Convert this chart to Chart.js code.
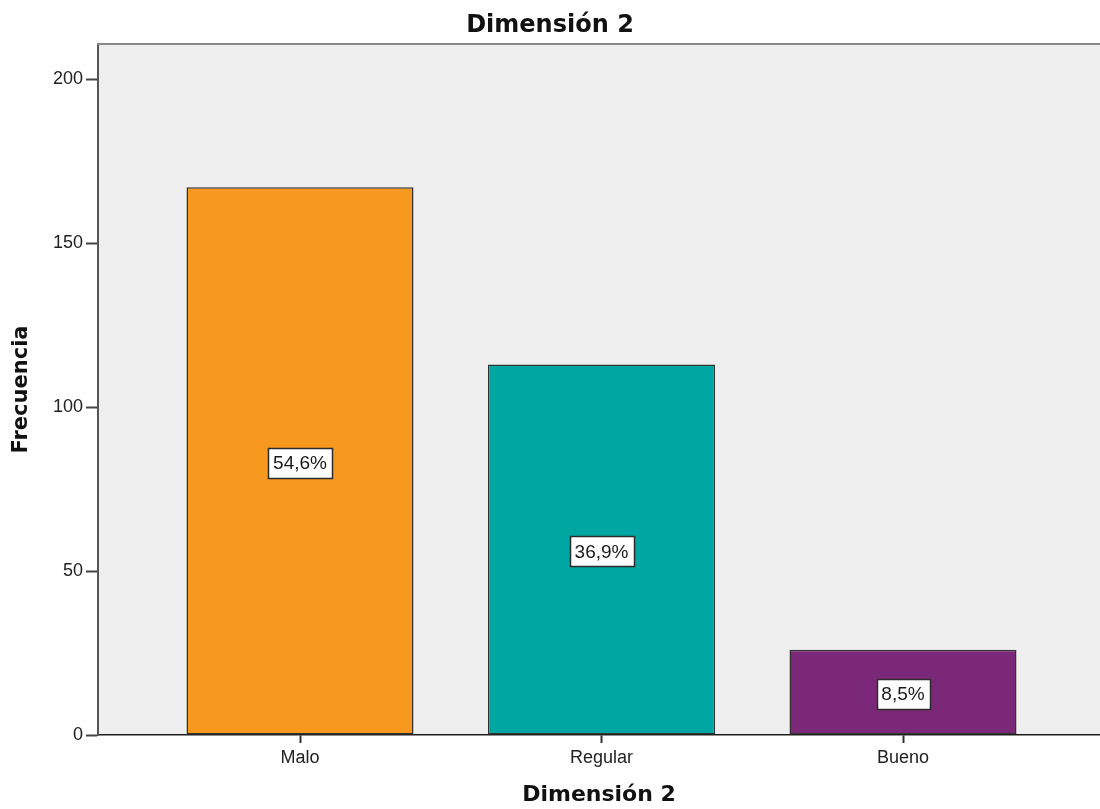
<!DOCTYPE html>
<html lang="es">
<head>
<meta charset="utf-8">
<title>Dimensión 2</title>
<script src="https://cdn.jsdelivr.net/npm/chart.js@4.4.1/dist/chart.umd.min.js"></script>
<style>
  html, body { margin: 0; padding: 0; background: #ffffff; }
  canvas { display: block; }
</style>
</head>
<body>
<canvas id="chart" width="1100" height="809"></canvas>
<script>
// Frequency of each level of "Dimensión 2"
const categories = ['Malo', 'Regular', 'Bueno'];
const counts = [167, 113, 26];
const barColors = ['#F7991F', '#00A6A2', '#7C2879'];
const yTicks = [0, 50, 100, 150, 200];

const total = counts.reduce((a, b) => a + b, 0);
const pctLabels = counts.map(v => (v / total * 100).toFixed(1).replace('.', ',') + '%');

const TICK_FONT = { family: '"Liberation Sans", Arial, sans-serif', size: 18 };
const TITLE_FAMILY = '"DejaVu Sans", Verdana, sans-serif';

// Grey plot panel with a thin frame line on top
const panelPlugin = {
  id: 'panel',
  beforeDraw(chart) {
    const { ctx, chartArea: a } = chart;
    ctx.save();
    ctx.fillStyle = '#EFEFEF';
    ctx.fillRect(a.left, a.top, a.right - a.left, a.bottom - a.top);
    ctx.restore();
  },
  afterDraw(chart) {
    const { ctx, chartArea: a } = chart;
    ctx.save();
    ctx.strokeStyle = '#8A8A8A';
    ctx.lineWidth = 2;
    ctx.beginPath();
    ctx.moveTo(a.left - 1, a.top);
    ctx.lineTo(a.right, a.top);
    ctx.stroke();
    ctx.restore();
  }
};

// Boxed percentage label in the middle of each bar
const boxLabelPlugin = {
  id: 'boxLabels',
  afterDatasetsDraw(chart) {
    const { ctx } = chart;
    const meta = chart.getDatasetMeta(0);
    ctx.save();
    ctx.font = '19px "Liberation Sans", Arial, sans-serif';
    ctx.textAlign = 'center';
    ctx.textBaseline = 'middle';
    meta.data.forEach((bar, i) => {
      const p = bar.getProps(['x', 'y', 'base'], true);
      const cx = p.x;
      const cy = (p.y + p.base) / 2 + 2;
      const text = pctLabels[i];
      const w = Math.round(ctx.measureText(text).width) + 10;
      const h = 30;
      const x0 = Math.round(cx - w / 2) + 0.5;
      const y0 = Math.round(cy - h / 2) + 0.5;
      ctx.fillStyle = '#FFFFFF';
      ctx.fillRect(x0, y0, w, h);
      ctx.strokeStyle = '#2B2B2B';
      ctx.lineWidth = 1.5;
      ctx.strokeRect(x0, y0, w, h);
      ctx.fillStyle = '#1A1A1A';
      ctx.fillText(text, cx, cy + 1);
    });
    ctx.restore();
  }
};

new Chart(document.getElementById('chart'), {
  type: 'bar',
  data: {
    datasets: [{
      data: counts.map((v, i) => ({ x: i + 1, y: v })),
      backgroundColor: barColors,
      borderColor: '#333333',
      borderWidth: 1.5,
      borderSkipped: false,
      categoryPercentage: 1,
      barPercentage: 0.753
    }]
  },
  options: {
    responsive: false,
    animation: false,
    devicePixelRatio: 1,
    layout: { padding: { left: 0, right: 0, top: 0, bottom: 0 } },
    plugins: {
      legend: { display: false },
      tooltip: { enabled: false },
      title: {
        display: true,
        text: 'Dimensión 2',
        color: '#111111',
        font: { family: TITLE_FAMILY, weight: 'bold', size: 24 },
        padding: { top: 11, bottom: 4.2 }
      }
    },
    scales: {
      x: {
        type: 'linear',
        offset: false,
        min: 0.33,
        max: 3.6534,
        afterBuildTicks(scale) {
          scale.ticks = categories.map((c, i) => ({ value: i + 1 }));
        },
        afterFit(scale) { scale.height = 74; },
        ticks: {
          autoSkip: false,
          maxRotation: 0,
          padding: 4,
          color: '#222222',
          font: TICK_FONT,
          callback: (v) => categories[Math.round(v) - 1] ?? ''
        },
        grid: {
          offset: false,
          drawOnChartArea: false,
          drawTicks: true,
          tickLength: 8,
          tickColor: '#333333',
          tickWidth: 2
        },
        border: { display: true, color: '#1E1E1E', width: 1.5 },
        title: {
          display: true,
          text: 'Dimensión 2',
          color: '#111111',
          font: { family: TITLE_FAMILY, weight: 'bold', size: 22 },
          padding: { top: 0, bottom: 0.3 }
        }
      },
      y: {
        min: 0,
        max: 210.7,
        afterBuildTicks(scale) {
          scale.ticks = yTicks.map(v => ({ value: v }));
        },
        afterFit(scale) { scale.width = 98; },
        ticks: {
          padding: 3,
          color: '#222222',
          font: TICK_FONT
        },
        grid: {
          drawOnChartArea: false,
          drawTicks: true,
          tickLength: 12,
          tickColor: '#444444',
          tickWidth: 2
        },
        border: { display: true, color: '#555555', width: 2 },
        title: {
          display: true,
          text: 'Frecuencia',
          color: '#111111',
          font: { family: TITLE_FAMILY, weight: 'bold', size: 21 },
          padding: { top: 9, bottom: 0 }
        }
      }
    }
  },
  plugins: [panelPlugin, boxLabelPlugin]
});
</script>
</body>
</html>
